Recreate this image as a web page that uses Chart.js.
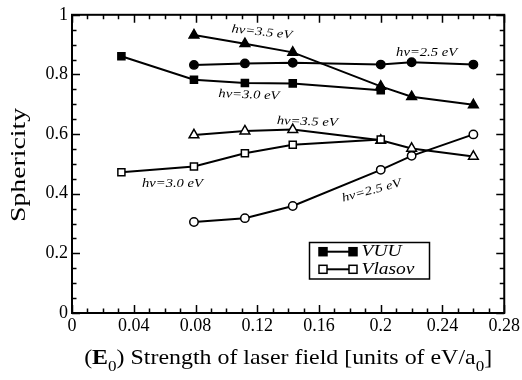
<!DOCTYPE html>
<html>
<head>
<meta charset="utf-8">
<script src="https://cdn.jsdelivr.net/npm/chart.js@4/dist/chart.umd.min.js"></script>
<style>
  html, body { margin: 0; padding: 0; background: #fff; }
  canvas { display: block; }
</style>
</head>
<body>
<canvas id="chart" width="522" height="380"></canvas>
<script>
// Field strengths E0 (eV/a0) at which sphericity was computed
const fieldShort = [0.032, 0.079, 0.112, 0.143, 0.200];
const fieldLong  = [0.079, 0.112, 0.143, 0.200, 0.220, 0.260];

// VUU results (filled symbols)
const vuu25 = [0.832, 0.837, 0.839, 0.833, 0.841, 0.833];
const vuu30 = [0.861, 0.782, 0.771, 0.770, 0.747];
const vuu35 = [0.932, 0.903, 0.874, 0.760, 0.725, 0.698];

// Vlasov results (open symbols)
const vlasov25 = [0.305, 0.318, 0.359, 0.480, 0.527, 0.599];
const vlasov30 = [0.472, 0.491, 0.536, 0.564, 0.582];
const vlasov35 = [0.597, 0.610, 0.615, 0.579, 0.552, 0.525];

// Axis ticks
const xTickValues = [0, 0.04, 0.08, 0.12, 0.16, 0.2, 0.24, 0.28];
const xTickLabels = ['0', '0.04', '0.08', '0.12', '0.16', '0.2', '0.24', '0.28'];
const yTickValues = [0, 0.2, 0.4, 0.6, 0.8, 1];
const yTickLabels = ['0', '0.2', '0.4', '0.6', '0.8', '1'];

// Curve annotations: text, field, sphericity, angle (degrees)
const curveLabels = [
  { text: 'hν=3.5 eV', x: 0.123, y: 0.941, angle: 6 },
  { text: 'hν=2.5 eV', x: 0.2297, y: 0.871, angle: 0 },
  { text: 'hν=3.0 eV', x: 0.1146, y: 0.731, angle: 2 },
  { text: 'hν=3.5 eV', x: 0.1524, y: 0.641, angle: 2 },
  { text: 'hν=3.0 eV', x: 0.0651, y: 0.4346, angle: 0 },
  { text: 'hν=2.5 eV', x: 0.1941, y: 0.410, angle: -15 }
];

const SERIF = "'Liberation Serif', 'Times New Roman', serif";

const pairs = (xs, ys) => xs.map((x, i) => ({ x, y: ys[i] }));

function series(xs, ys, shape, filled) {
  const r = shape === 'circle' ? 4.2 : (shape === 'rect' ? 5.0 : 5.6);
  return {
    data: pairs(xs, ys),
    showLine: true,
    borderColor: '#000',
    borderWidth: 2,
    pointStyle: shape,
    pointRadius: r,
    pointHoverRadius: r,
    pointBackgroundColor: filled ? '#000' : '#fff',
    pointBorderColor: '#000',
    pointBorderWidth: 1.5,
    tension: 0,
    fill: false
  };
}

// Draws text segments as one run, stretched to a given width, centred at (cx, cy)
function drawRun(ctx, segs, cx, cy, targetW, angle, baseline) {
  ctx.save();
  ctx.translate(cx, cy);
  ctx.rotate(angle);
  let w = 0;
  for (const s of segs) { ctx.font = s.font; w += ctx.measureText(s.t).width; }
  const k = targetW ? targetW / w : 1;
  ctx.scale(k, 1);
  ctx.textAlign = 'left';
  ctx.textBaseline = baseline || 'alphabetic';
  ctx.fillStyle = '#000';
  let xx = -w / 2;
  for (const s of segs) {
    ctx.font = s.font;
    ctx.fillText(s.t, xx, s.dy || 0);
    xx += ctx.measureText(s.t).width;
  }
  ctx.restore();
}

const framePlugin = {
  id: 'frameTicks',
  beforeDatasetsDraw(chart) {
    const { ctx, chartArea: a, scales: { x, y } } = chart;
    ctx.save();
    ctx.strokeStyle = '#000';
    ctx.lineWidth = 1.5;
    ctx.beginPath();
    for (let i = 0; i <= 28; i++) {
      const px = Math.round(x.getPixelForValue(i / 100)) + 0.5;
      const len = i % 4 === 0 ? 8 : 4.5;
      ctx.moveTo(px, a.bottom); ctx.lineTo(px, a.bottom - len);
      ctx.moveTo(px, a.top); ctx.lineTo(px, a.top + len);
    }
    for (let i = 0; i <= 20; i++) {
      const py = Math.round(y.getPixelForValue(i / 20)) + 0.5;
      const len = i % 4 === 0 ? 8 : 4.5;
      ctx.moveTo(a.left, py); ctx.lineTo(a.left + len, py);
      ctx.moveTo(a.right, py); ctx.lineTo(a.right - len, py);
    }
    ctx.stroke();
    ctx.lineWidth = 2;
    ctx.strokeRect(a.left, a.top, a.right - a.left, a.bottom - a.top);
    ctx.restore();
  },
  afterDatasetsDraw(chart) {
    const { ctx, chartArea: a, scales: { x, y } } = chart;

    // curve annotations
    for (const c of curveLabels) {
      drawRun(ctx, [{ t: c.text, font: 'italic 12px ' + SERIF }],
        x.getPixelForValue(c.x), y.getPixelForValue(c.y), 61, c.angle * Math.PI / 180, 'middle');
    }

    // x axis title with subscripts
    const reg = '21px ' + SERIF, bold = 'bold 21px ' + SERIF, sub = '15px ' + SERIF;
    drawRun(ctx, [
      { t: '(', font: reg },
      { t: 'E', font: bold },
      { t: '0', font: sub, dy: 7 },
      { t: ') Strength of laser field [units of eV/a', font: reg },
      { t: '0', font: sub, dy: 7 },
      { t: ']', font: reg }
    ], (a.left + a.right) / 2, 364, 408, 0);

    // y axis title
    drawRun(ctx, [{ t: 'Sphericity', font: '22px ' + SERIF }], 25, 165, 114, -Math.PI / 2);

    // legend
    const bx = 309.5, by = 242.5, bw = 120, bh = 36.5;
    ctx.save();
    ctx.strokeStyle = '#000';
    ctx.lineWidth = 1.5;
    ctx.strokeRect(bx, by, bw, bh);
    const rows = [
      { label: 'VUU', filled: true, yy: 251.7, w: 40 },
      { label: 'Vlasov', filled: false, yy: 269.3, w: 53 }
    ];
    for (const r of rows) {
      ctx.lineWidth = 2;
      ctx.beginPath();
      ctx.moveTo(323, r.yy); ctx.lineTo(353, r.yy);
      ctx.stroke();
      for (const mx of [323, 353]) {
        ctx.fillStyle = r.filled ? '#000' : '#fff';
        ctx.lineWidth = 1.5;
        ctx.fillRect(mx - 4, r.yy - 4, 8, 8);
        ctx.strokeRect(mx - 4, r.yy - 4, 8, 8);
      }
      ctx.save();
      ctx.translate(361.5, r.yy);
      ctx.font = 'italic 17px ' + SERIF;
      const tw = ctx.measureText(r.label).width;
      ctx.scale(r.w / tw, 1);
      ctx.fillStyle = '#000';
      ctx.textAlign = 'left';
      ctx.textBaseline = 'middle';
      ctx.fillText(r.label, 0, 0);
      ctx.restore();
    }
    ctx.restore();
  }
};

new Chart(document.getElementById('chart'), {
  type: 'scatter',
  data: {
    datasets: [
      series(fieldLong, vuu25, 'circle', true),
      series(fieldShort, vuu30, 'rect', true),
      series(fieldLong, vuu35, 'triangle', true),
      series(fieldLong, vlasov25, 'circle', false),
      series(fieldShort, vlasov30, 'rect', false),
      series(fieldLong, vlasov35, 'triangle', false)
    ]
  },
  options: {
    responsive: false,
    animation: false,
    devicePixelRatio: 1,
    layout: { padding: { top: 10, right: 17, left: 0, bottom: 0 } },
    plugins: { legend: { display: false }, tooltip: { enabled: false } },
    scales: {
      x: {
        type: 'linear',
        min: 0, max: 0.28,
        grid: { display: false, drawTicks: false },
        border: { display: false },
        afterBuildTicks: s => { s.ticks = xTickValues.map(v => ({ value: v })); },
        afterFit: s => { s.height = 67; },
        ticks: {
          color: '#000',
          padding: 2,
          maxRotation: 0,
          autoSkip: false,
          font: { family: SERIF, size: 18 },
          callback: (v, i) => xTickLabels[i]
        }
      },
      y: {
        type: 'linear',
        min: 0, max: 1,
        grid: { display: false, drawTicks: false },
        border: { display: false },
        afterBuildTicks: s => { s.ticks = yTickValues.map(v => ({ value: v })); },
        afterFit: s => { s.width = 72; },
        ticks: {
          color: '#000',
          padding: 4,
          autoSkip: false,
          font: { family: SERIF, size: 18 },
          callback: (v, i) => yTickLabels[i]
        }
      }
    }
  },
  plugins: [framePlugin]
});
</script>
</body>
</html>
